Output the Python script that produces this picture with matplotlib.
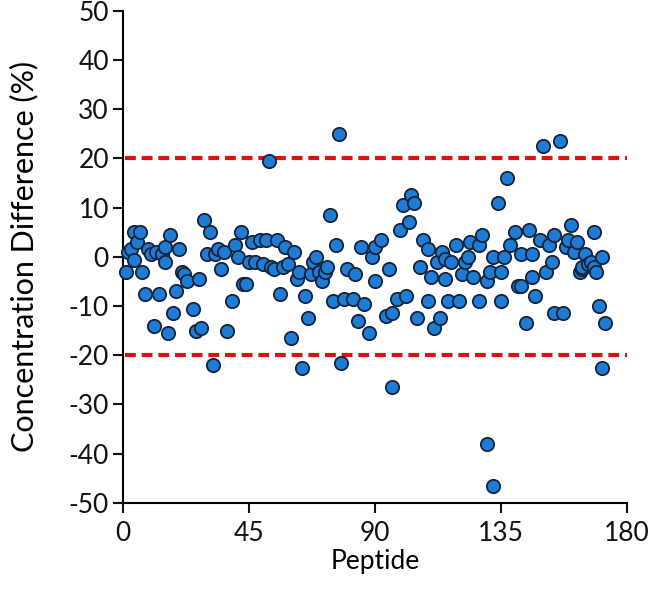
import matplotlib
matplotlib.use("Agg")
import matplotlib.pyplot as plt

# peptide number and concentration difference (%)
peptide = [1, 2, 3, 4, 4, 5, 6, 7, 8, 9, 10, 11, 12, 13, 14, 15, 15, 16, 17, 18,
           19, 20, 21, 22, 23, 25, 26, 27, 28, 29, 30, 31, 32, 33, 34, 35, 36, 37, 39, 40,
           41, 42, 43, 44, 45, 46, 47, 49, 50, 52, 51, 53, 54, 55, 56, 57, 58, 59, 60, 61,
           62, 64, 63, 65, 66, 67, 68, 69, 70, 71, 72, 73, 74, 75, 76, 77, 78, 79, 80, 82,
           83, 84, 85, 86, 88, 89, 90, 90, 92, 94, 95, 96, 96, 98, 99, 100, 101, 102, 103, 104,
           105, 106, 107, 109, 109, 110, 111, 112, 113, 114, 115, 115, 116, 117, 119, 120, 121, 122, 123, 124,
           125, 127, 127, 128, 130, 130, 131, 132, 132, 134, 135, 135, 136, 137, 138, 140, 141, 142, 142, 144,
           145, 146, 146, 147, 149, 150, 151, 152, 153, 154, 154, 156, 157, 158, 159, 160, 161, 162, 163, 164,
           164, 165, 166, 167, 168, 168, 169, 170, 171, 171, 172]
difference = [-3, 1, 1.5, -0.7, 5, 3, 5, -3, -7.5, 1.5, 0.5, -14, 1, -7.5, 0.5, -1, 2, -15.5, 4.5, -11.5,
              -7, 1.5, -3, -3.5, -5, -10.5, -15, -4.5, -14.5, 7.5, 0.5, 5, -22, 0.5, 1.5, -2.5, 1, -15, -9, 2.5,
              0, 5, -5.5, -5.5, -1, 3, -1, 3.5, -1.5, 19.5, 3.5, -2, -2.5, 3.5, -7.5, -2, 2, -1.5, -16.5, 1,
              -4.5, -22.5, -3, -8, -12.5, -3.5, -1, 0, -3, -5, -3, -2, 8.5, -9, 2.5, 25, -21.5, -8.5, -2.5, -8.5,
              -3.5, -13, 2, -9.5, -15.5, 0, 2, -5, 3.5, -12, -2.5, -11.5, -26.5, -8.5, 5.5, 10.5, -8, 7, 12.5, 11,
              -12.5, -2, 3.5, -9, 1.5, -4, -14.5, -1, -12.5, 1, -4.5, -0.5, -9, -1, 2.5, -9, -3.5, -1, 0, 3,
              -4, -9, 2.5, 4.5, -38, -5, -3, -46.5, 0, 11, -9, -3, 0, 16, 2.5, 5, -6, -6, 0.5, -13.5,
              5.5, -4, 0.5, -8, 3.5, 22.5, -3, 2.5, -1, 4.5, -11.5, 23.5, -11.5, 2, 3.5, 6.5, 1, 3, -3, -2.5,
              -2, 0.5, -1.5, -1, -2, 5, -3, -10, -22.5, 0, -13.5]
limits = [20, -20]

plt.rcParams['font.family'] = ['Lato', 'DejaVu Sans']
plt.rcParams['axes.unicode_minus'] = False

fig = plt.figure(figsize=(6.5, 5.98), dpi=100)
ax = fig.add_axes([0.189, 0.159, 0.776, 0.823])

for lim in limits:
    ax.plot([0.7, 180], [lim, lim], color='#e01010', lw=3.0, ls=(0, (2.6, 1.4)), zorder=1)

ax.scatter(peptide, difference, s=92, facecolor='#1f7cd4', edgecolor='#15233a',
           linewidth=1.3, zorder=3, clip_on=False)

ax.set_xlim(0, 180)
ax.set_ylim(-50, 50)
ax.set_xticks([0, 45, 90, 135, 180])
ax.set_yticks(range(-50, 51, 10))
ax.spines['top'].set_visible(False)
ax.spines['right'].set_visible(False)
for s in ['left', 'bottom']:
    ax.spines[s].set_linewidth(1.5)
ax.tick_params(direction='out', length=7, width=1.5, labelsize=19, colors='#111111', pad=3)
ax.tick_params(axis='x', pad=6)
ax.set_xlabel('Peptide', fontsize=19, labelpad=2)
ax.set_ylabel('Concentration Difference (%)', fontsize=22, labelpad=22)

fig.savefig('out.png', dpi=100)
